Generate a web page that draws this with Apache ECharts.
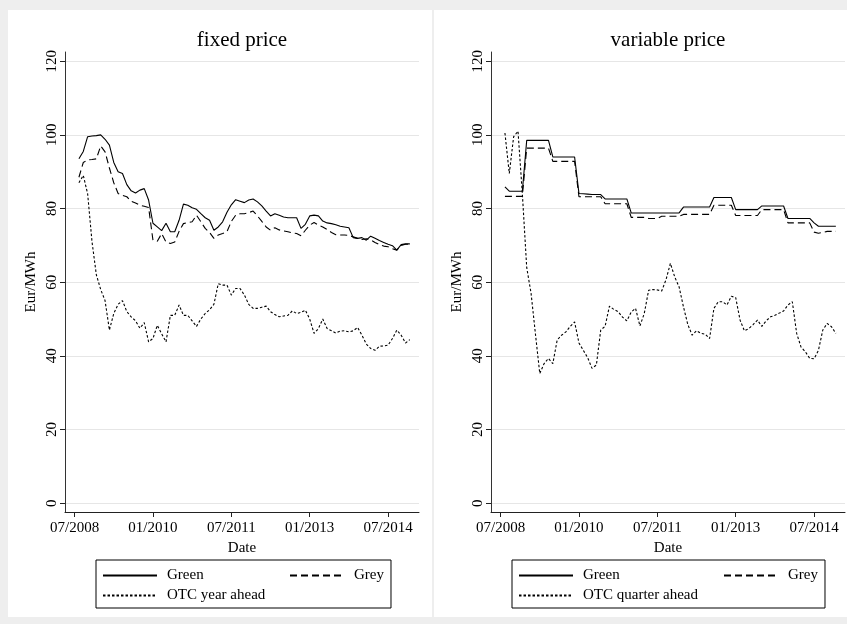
<!DOCTYPE html>
<html>
<head>
<meta charset="utf-8">
<script src="https://cdn.jsdelivr.net/npm/echarts@6/dist/echarts.min.js"></script>
<style>
  html, body { margin: 0; padding: 0; background: #eeeeee; }
  #chart { width: 847px; height: 624px; }
</style>
</head>
<body>
<div id="chart"></div>
<script>
// Monthly observations, 08/2008 .. 12/2014
const months = [];
for (let k = 0; k < 77; k++) {
  const t = 2008 * 12 + 7 + k;
  months.push(String(t % 12 + 1).padStart(2, '0') + '/' + Math.floor(t / 12));
}

const xTickLabels = ['07/2008', '01/2010', '07/2011', '01/2013', '07/2014'];
const yTickValues = [0, 20, 40, 60, 80, 100, 120];

// Fixed-price tariffs (Eur/MWh)
const greenFixed = [93.5, 95.5, 99.5, 99.7, 99.8, 100.0, 98.8, 97.2, 92.5, 90.0,
  89.5, 86.5, 84.8, 84.2, 85.0, 85.4, 82.3, 76.0, 75.0, 74.0,
  76.0, 73.7, 73.7, 76.8, 81.2, 80.9, 80.2, 79.8, 78.6, 77.5,
  76.8, 74.1, 75.0, 76.4, 79.0, 81.0, 82.4, 82.0, 81.6, 82.3,
  82.6, 81.8, 80.7, 79.3, 78.0, 78.6, 78.2, 77.7, 77.5, 77.5,
  77.5, 74.6, 75.7, 78.0, 78.2, 78.0, 76.6, 76.1, 75.9, 75.6,
  75.2, 75.0, 74.8, 72.1, 71.9, 72.1, 71.4, 72.5, 71.9, 71.3,
  70.8, 70.3, 69.9, 68.7, 70.2, 70.4, 70.4];
const greyFixed = [88.5, 92.5, 93.2, 93.3, 93.5, 97.0, 95.4, 91.0, 87.0, 84.1,
  83.6, 83.2, 82.0, 81.5, 80.9, 80.6, 80.3, 71.4, 71.1, 73.2,
  70.9, 70.5, 70.9, 73.8, 75.9, 76.2, 76.4, 78.2, 76.4, 74.6,
  73.5, 71.9, 72.8, 73.2, 73.7, 76.5, 78.2, 78.6, 78.6, 78.9,
  79.3, 78.0, 76.5, 75.0, 74.1, 74.8, 74.2, 73.9, 73.7, 73.4,
  73.2, 72.6, 74.1, 75.5, 76.2, 75.5, 75.0, 74.3, 73.5, 72.9,
  72.8, 72.8, 72.7, 72.3, 71.9, 71.6, 71.8, 71.5, 70.8, 70.2,
  69.8, 69.6, 69.1, 68.7, 70.0, 70.3, 70.3];
const otcYearAhead = [87.0, 89.0, 84.0, 71.0, 62.0, 58.0, 55.0, 47.0, 51.5, 54.0,
  55.0, 52.0, 50.6, 49.5, 47.5, 49.0, 43.8, 44.7, 48.3, 46.0,
  43.8, 51.0, 51.0, 53.8, 51.0, 51.0, 49.5, 48.0, 50.0, 51.5,
  52.5, 54.0, 59.6, 59.2, 59.2, 56.5, 58.3, 58.3, 56.5, 54.0,
  52.9, 52.9, 53.2, 53.5, 52.0, 51.2, 50.6, 50.8, 51.0, 52.2,
  51.5, 51.8, 52.4, 50.0, 46.1, 47.4, 50.0, 47.4, 46.8, 46.2,
  46.7, 46.8, 46.5, 46.8, 47.7, 45.6, 43.2, 42.0, 41.5, 42.6,
  42.7, 42.9, 44.7, 47.0, 45.6, 43.5, 44.4];

// Variable-price tariffs (Eur/MWh)
const greenVariable = [85.9, 84.7, 84.7, 84.7, 84.7, 98.5, 98.5, 98.5, 98.5, 98.5,
  98.5, 94.0, 94.0, 94.0, 94.0, 94.0, 94.0, 84.1, 84.0, 83.9,
  83.8, 83.8, 83.8, 82.6, 82.6, 82.6, 82.6, 82.6, 82.6, 78.8,
  78.8, 78.8, 78.8, 78.8, 78.8, 78.8, 78.8, 78.8, 78.8, 78.8,
  78.8, 80.4, 80.4, 80.4, 80.4, 80.4, 80.4, 80.4, 83.0, 83.0,
  83.0, 83.0, 83.0, 79.7, 79.7, 79.7, 79.7, 79.7, 79.7, 80.7,
  80.7, 80.7, 80.7, 80.7, 80.7, 77.3, 77.3, 77.3, 77.3, 77.3,
  77.3, 76.1, 75.2, 75.2, 75.2, 75.2, 75.2];
const greyVariable = [83.3, 83.3, 83.3, 83.3, 83.3, 96.4, 96.4, 96.4, 96.4, 96.4,
  96.4, 92.8, 92.8, 92.8, 92.8, 92.8, 92.8, 83.2, 83.2, 83.2,
  83.2, 83.2, 83.2, 81.3, 81.3, 81.3, 81.3, 81.3, 81.3, 77.6,
  77.6, 77.6, 77.6, 77.3, 77.3, 77.3, 77.9, 77.9, 77.9, 77.9,
  77.9, 78.4, 78.4, 78.4, 78.4, 78.4, 78.4, 78.4, 80.9, 80.9,
  80.9, 80.9, 80.9, 78.1, 78.1, 78.1, 78.1, 78.1, 78.1, 79.7,
  79.7, 79.7, 79.7, 79.7, 79.7, 76.1, 76.1, 76.1, 76.1, 76.1,
  76.1, 73.6, 73.3, 73.5, 73.8, 73.8, 73.8];
const otcQuarterAhead = [100.5, 89.5, 99.5, 101.0, 84.0, 64.0, 57.0, 46.0, 35.2, 37.9,
  39.3, 37.9, 44.3, 45.6, 46.5, 48.0, 49.2, 43.5, 41.5, 39.5,
  36.6, 37.5, 47.0, 48.0, 53.5, 52.6, 52.0, 50.5, 49.5, 51.9,
  52.9, 48.1, 51.5, 57.8, 58.0, 57.9, 57.6, 60.7, 65.1, 61.4,
  58.7, 53.3, 48.5, 45.6, 46.8, 46.1, 45.9, 44.7, 52.9, 54.7,
  54.7, 53.8, 56.2, 55.8, 49.7, 46.8, 47.4, 48.5, 49.7, 48.0,
  49.5, 50.6, 51.0, 51.6, 52.2, 53.8, 54.7, 46.1, 42.4, 41.1,
  39.3, 39.2, 41.5, 47.0, 48.8, 47.9, 46.1];

const FONT = 'Liberation Serif';

// months counted from 07/2008
function monthPos(label) {
  const [mm, yyyy] = label.split('/').map(Number);
  return (yyyy - 2008) * 12 + (mm - 7);
}
const xTickValues = xTickLabels.map(monthPos);
function pairs(vals) { return months.map((m, i) => [monthPos(m), vals[i]]); }

function xAxisFor(gridIndex) {
  return {
    type: 'value', gridIndex, min: -2.2, max: 79.1,
    name: 'Date', nameLocation: 'middle', nameGap: 24,
    nameTextStyle: { fontFamily: FONT, fontSize: 15, color: '#000' },
    axisLine: { show: true, onZero: false, lineStyle: { color: '#222', width: 1 } },
    axisTick: { show: true, customValues: xTickValues, length: 5, lineStyle: { color: '#222' } },
    axisLabel: {
      customValues: xTickValues, margin: 9,
      fontFamily: FONT, fontSize: 15, color: '#000',
      formatter: v => xTickLabels[xTickValues.indexOf(Math.round(v))] || ''
    },
    splitLine: { show: false }
  };
}
function yAxisFor(gridIndex) {
  return {
    type: 'value', gridIndex, min: -2.4, max: 122.5,
    name: 'Eur/MWh', nameLocation: 'middle', nameGap: 26,
    nameTextStyle: { fontFamily: FONT, fontSize: 15, color: '#000' },
    axisLine: { show: true, onZero: false, lineStyle: { color: '#333', width: 1 } },
    axisTick: { show: true, customValues: yTickValues, length: 5, lineStyle: { color: '#222' } },
    axisLabel: {
      customValues: yTickValues, rotate: 90, margin: 5,
      fontFamily: FONT, fontSize: 15, color: '#000',
      formatter: v => String(Math.round(v))
    },
    splitLine: { show: true, customValues: yTickValues, lineStyle: { color: '#e6e6e6', width: 1 } }
  };
}

const styles = {
  green: { color: '#000', width: 1.1, type: 'solid' },
  grey: { color: '#000', width: 1.1, type: [7, 4] },
  otc: { color: '#000', width: 1.1, type: [2.5, 2] }
};
function lineSeries(name, vals, idx, style) {
  return {
    type: 'line', name, xAxisIndex: idx, yAxisIndex: idx,
    data: pairs(vals), symbol: 'none',
    lineStyle: style, itemStyle: { color: '#000' },
    animation: false
  };
}
function legendFor(left, names, firstWidth) {
  return {
    left, top: 560, orient: 'horizontal', width: firstWidth + 200,
    itemWidth: 54, itemHeight: 14, itemGap: 5,
    padding: [8, 7, 5, 6],
    borderColor: '#000', borderWidth: 1, backgroundColor: '#fff',
    selectedMode: false,
    itemStyle: { opacity: 0 },
    textStyle: { fontFamily: FONT, fontSize: 15, color: '#000', lineHeight: 15, padding: [0, 0, 0, 5] },
    data: [
      { name: names[0], textStyle: { width: firstWidth } },
      { name: names[1] },
      { name: names[2] }
    ]
  };
}

const chart = echarts.init(document.getElementById('chart'), null, { renderer: 'canvas' });
chart.setOption({
  backgroundColor: '#eeeeee',
  animation: false,
  graphic: { elements: [
    { type: 'rect', z: -10, shape: { x: 8, y: 10, width: 424, height: 607 }, style: { fill: '#fff' } },
    { type: 'rect', z: -10, shape: { x: 434, y: 10, width: 420, height: 607 }, style: { fill: '#fff' } },
    { type: 'text', x: 242, y: 40, style: { text: 'fixed price', align: 'center', verticalAlign: 'middle', font: '21px "Liberation Serif"', fill: '#000' } },
    { type: 'text', x: 668, y: 40, style: { text: 'variable price', align: 'center', verticalAlign: 'middle', font: '21px "Liberation Serif"', fill: '#000' } }
  ] },
  grid: [
    { left: 65, right: 428, top: 52, bottom: 112, containLabel: false },
    { left: 491, right: 2, top: 52, bottom: 112, containLabel: false }
  ],
  xAxis: [xAxisFor(0), xAxisFor(1)],
  yAxis: [yAxisFor(0), yAxisFor(1)],
  legend: [
    legendFor(96, ['Green', 'Grey', 'OTC year ahead'], 117),
    legendFor(512, ['Green', 'Grey', 'OTC quarter ahead'], 135)
  ],
  series: [
    lineSeries('Green', greenFixed, 0, styles.green),
    lineSeries('Grey', greyFixed, 0, styles.grey),
    lineSeries('OTC year ahead', otcYearAhead, 0, styles.otc),
    lineSeries('Green', greenVariable, 1, styles.green),
    lineSeries('Grey', greyVariable, 1, styles.grey),
    lineSeries('OTC quarter ahead', otcQuarterAhead, 1, styles.otc)
  ]
});
</script>
</body>
</html>
